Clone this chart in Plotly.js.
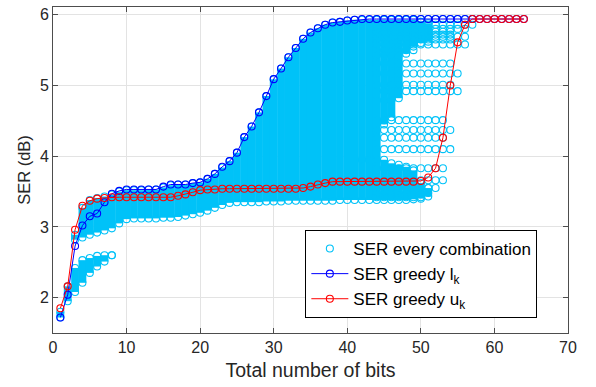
<!DOCTYPE html>
<html>
<head>
<meta charset="utf-8">
<script src="https://cdn.plot.ly/plotly-3.0.1.min.js"></script>
<style>html,body{margin:0;padding:0;background:#fff;}#plot{width:596px;height:387px;}</style>
</head>
<body>
<div id="plot"></div>
<script>
// Total number of bits for the greedy curves
const bits = [1,2,3,4,5,6,7,8,9,10,11,12,13,14,15,16,17,18,19,20,21,22,23,24,25,26,27,28,29,30,31,32,
              33,34,35,36,37,38,39,40,41,42,43,44,45,46,47,48,49,50,51,52,53,54,55,56,57,58,59,60,61,62,63,64];
// SER greedy l_k (dB)
const serGreedyL = [1.72,2.04,2.73,3.02,3.15,3.19,3.35,3.47,3.51,3.53,3.53,3.53,3.53,3.53,3.57,3.60,3.60,3.60,3.62,3.63,
                    3.68,3.75,3.85,3.93,4.05,4.27,4.42,4.62,4.85,5.09,5.24,5.40,5.53,5.66,5.75,5.81,5.86,5.89,5.90,5.92,
                    5.93,5.94,5.94,5.94,5.94,5.94,5.94,5.94,5.94,5.94,5.94,5.94,5.94,5.94,5.94,5.94,5.94,5.94,5.94,5.94,
                    5.94,5.94,5.94,5.94];
// SER greedy u_k (dB)
const serGreedyU = [1.85,2.16,2.96,3.30,3.37,3.40,3.41,3.42,3.42,3.42,3.42,3.42,3.42,3.42,3.42,3.42,3.44,3.46,3.49,3.52,
                    3.53,3.53,3.54,3.54,3.54,3.54,3.54,3.54,3.54,3.54,3.54,3.54,3.54,3.55,3.57,3.60,3.62,3.64,3.64,3.64,
                    3.64,3.64,3.64,3.64,3.64,3.64,3.64,3.64,3.64,3.65,3.70,3.83,4.26,5.00,5.61,5.86,5.94,5.94,5.94,5.94,
                    5.94,5.94,5.94,5.94];

// "Every combination": dense columns of points (bits, lowest SER, highest SER)
const cloudX  = [1,2,3,3,4,4,5,5,6,6,7,7,8,8,9,10,11,12,13,14,15,16,17,18,19,20,21,22,23,24,25,26,27,28,29,30,
                 31,32,33,34,35,36,37,38,39,40,41,42,43,44,45,45,46,46,47,47,48,48,49,49,50,50,51,51];
const cloudLo = [1.72,1.95,2.08,2.82,2.21,2.85,2.35,2.89,2.44,2.92,2.51,2.95,2.60,2.98,3.05,3.11,3.12,3.12,3.12,3.12,
                 3.13,3.13,3.14,3.16,3.18,3.20,3.23,3.27,3.31,3.34,3.35,3.35,3.35,3.35,3.36,3.36,3.36,3.37,3.37,3.37,
                 3.37,3.37,3.37,3.37,3.38,3.38,3.38,3.38,3.38,3.38,3.38,4.45,3.38,4.55,3.38,4.82,3.38,5.45,3.39,5.55,
                 3.40,5.60,3.43,5.62];
const cloudHi = [1.80,2.16,2.42,2.89,2.53,3.27,2.56,3.38,2.59,3.41,2.60,3.43,2.60,3.46,3.50,3.52,3.52,3.52,3.53,3.53,
                 3.56,3.59,3.60,3.60,3.62,3.63,3.68,3.75,3.84,3.93,4.05,4.27,4.42,4.62,4.85,5.09,5.24,5.40,5.53,5.66,
                 5.75,5.81,5.86,5.89,5.90,5.92,5.93,5.93,5.93,5.93,3.95,5.93,3.90,5.93,3.88,5.93,3.85,5.93,3.80,5.93,
                 3.62,5.90,3.55,5.88];
// "Every combination": separate rows of points at the right edge (SER level, first bits, last bits)
const rowSER  = [5.94,5.86,5.80,5.76,5.72,5.69,5.65,5.58,5.50,5.43,5.31,5.17,5.01,4.92,4.79,4.51,4.37,4.26,4.10,3.95,3.83,3.66,3.55,3.48,3.42];
const rowFrom = [44,44,44,44,44,44,44,44,44,44,44,44,44,44,44,44,44,44,44,42,44,44,44,44,44];
const rowTo   = [57,57,56,54,54,56,54,56,49,47,54,55,54,55,46,53,54,53,54,44,53,53,52,51,50];

const xTicks = [0,10,20,30,40,50,60,70];
const yTicks = [2,3,4,5,6];

const CYAN = 'rgb(0,194,248)';
const BLUE = 'rgb(0,0,255)';
const RED  = 'rgb(255,0,0)';
const MSIZE = 7;
const FONT = 'Liberation Sans, Arial, sans-serif';

// build column segments
const segX = [], segY = [], endX = [], endY = [];
for (let i = 0; i < cloudX.length; i++) {
  segX.push(cloudX[i], cloudX[i], null);
  segY.push(cloudLo[i], cloudHi[i], null);
  endX.push(cloudX[i], cloudX[i]);
  endY.push(cloudLo[i], cloudHi[i]);
}
const rowX = [], rowY = [];
for (let r = 0; r < rowSER.length; r++) {
  for (let b = rowFrom[r]; b <= rowTo[r]; b++) { rowX.push(b); rowY.push(rowSER[r]); }
}

const traces = [
  {x: segX, y: segY, mode: 'lines', line: {color: CYAN, width: 7.8}, showlegend: false, hoverinfo: 'skip', connectgaps: false},
  {x: endX, y: endY, mode: 'markers', marker: {symbol: 'circle-open', size: MSIZE, color: CYAN, line: {width: 1.1}}, showlegend: false, hoverinfo: 'skip'},
  {x: rowX, y: rowY, mode: 'markers', name: 'SER every combination',
   marker: {symbol: 'circle-open', size: MSIZE, color: CYAN, line: {width: 1.1}}},
  {x: bits, y: serGreedyL, mode: 'lines+markers', name: 'SER greedy l<sub>k</sub>',
   line: {color: BLUE, width: 1}, marker: {symbol: 'circle-open', size: MSIZE, color: BLUE, line: {width: 1.1}}},
  {x: bits, y: serGreedyU, mode: 'lines+markers', name: 'SER greedy u<sub>k</sub>',
   line: {color: RED, width: 1}, marker: {symbol: 'circle-open', size: MSIZE, color: RED, line: {width: 1.1}}}
];

const axisCommon = {
  showline: true, linecolor: '#4d4d4d', linewidth: 1, mirror: 'ticks',
  ticks: 'inside', ticklen: 5, tickcolor: '#4d4d4d', tickwidth: 1,
  showgrid: true, gridcolor: '#e3e3e3', gridwidth: 1, zeroline: false,
  tickfont: {family: FONT, size: 16, color: '#262626'}
};

const layout = {
  width: 596, height: 387,
  margin: {l: 53, r: 28, t: 7, b: 54},
  paper_bgcolor: '#fff', plot_bgcolor: '#fff',
  showlegend: true,
  xaxis: Object.assign({}, axisCommon, {
    range: [0, 70], tickvals: xTicks, ticktext: xTicks.map(String),
    title: {text: 'Total number of bits', font: {family: FONT, size: 19.5, color: '#262626'}, standoff: 8}
  }),
  yaxis: Object.assign({}, axisCommon, {
    range: [1.5, 6.11], tickvals: yTicks, ticktext: yTicks.map(String),
    title: {text: 'SER (dB)', font: {family: FONT, size: 16.5, color: '#262626'}, standoff: 5}
  }),
  legend: {
    x: 0.49, y: 0.316, xanchor: 'left', yanchor: 'top',
    bgcolor: '#fff', bordercolor: '#000', borderwidth: 1,
    font: {family: FONT, size: 17, color: '#000'},
    itemwidth: 37, tracegroupgap: 0
  }
};

Plotly.newPlot('plot', traces, layout, {staticPlot: true, displayModeBar: false});
</script>
</body>
</html>
